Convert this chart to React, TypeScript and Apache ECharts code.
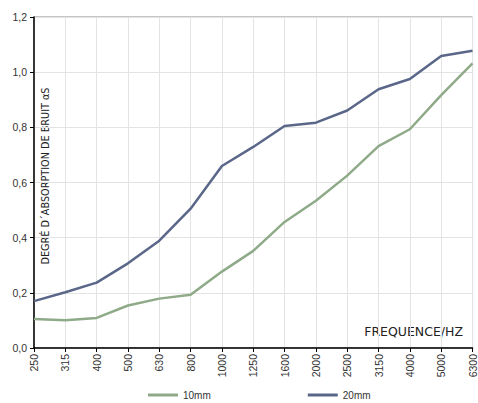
import React, { useEffect, useRef } from "react";
import * as echarts from "echarts";

const categories = ["250", "315", "400", "500", "630", "800", "1000", "1250", "1600", "2000", "2500", "3150", "4000", "5000", "6300"];
const series10mm = [0.105, 0.101, 0.109, 0.154, 0.179, 0.193, 0.277, 0.352, 0.457, 0.534, 0.625, 0.732, 0.793, 0.917, 1.032];
const series20mm = [0.170, 0.202, 0.237, 0.307, 0.389, 0.505, 0.660, 0.729, 0.805, 0.817, 0.861, 0.938, 0.975, 1.059, 1.078];
const yTicks = { min: 0, max: 1.2, interval: 0.2 };
const yAxisTitle = "DEGRÉ D´ABSORPTION DE BRUIT αS";
const xAxisTitle = "FREQUENCE/HZ";

export default function App() {
  const ref = useRef<HTMLDivElement>(null);
  useEffect(() => {
    document.body.style.margin = "0";
    if (!ref.current) return;
    const chart = echarts.init(ref.current, null, { renderer: "svg" });
    chart.setOption({
      animation: false,
      backgroundColor: "#ffffff",
      grid: {
        left: 34,
        right: 5,
        top: 17,
        bottom: 55,
        show: true,
        borderColor: "#8a8a8a",
        borderWidth: 1,
      },
      legend: {
        top: 385,
        left: 143,
        padding: 5,
        itemGap: 97,
        itemWidth: 30,
        itemHeight: 3,
        icon: "rect",
        textStyle: { fontFamily: "Liberation Sans", fontSize: 10, color: "#333" },
        data: ["10mm", "20mm"],
      },
      xAxis: {
        type: "category",
        data: categories,
        boundaryGap: false,
        axisLine: { lineStyle: { color: "#000", width: 1.5 } },
        axisTick: { show: true, length: 4, lineStyle: { color: "#000" } },
        axisLabel: {
          rotate: 90,
          interval: 0,
          fontFamily: "Liberation Sans",
          fontSize: 10.5,
          color: "#333",
          margin: 6,
        },
        splitLine: { show: true, lineStyle: { color: "#e3e3e3" } },
      },
      yAxis: {
        type: "value",
        min: yTicks.min,
        max: yTicks.max,
        interval: yTicks.interval,
        axisLine: { show: true, lineStyle: { color: "#000", width: 1.5 } },
        axisTick: { show: true, length: 4, lineStyle: { color: "#000" } },
        axisLabel: {
          fontFamily: "Liberation Sans",
          fontSize: 10.5,
          color: "#333",
          margin: 7,
          formatter: (v: number) => v.toFixed(1).replace(".", ","),
        },
        splitLine: { show: true, lineStyle: { color: "#e3e3e3" } },
      },
      graphic: [
        {
          type: "text",
          x: 45,
          y: 176,
          rotation: Math.PI / 2,
          style: {
            text: yAxisTitle,
            fontFamily: "DejaVu Sans",
            fontSize: 9.7,
            fill: "#222",
            align: "center",
            verticalAlign: "middle",
          },
        },
        {
          type: "text",
          x: 463,
          y: 331,
          style: {
            text: xAxisTitle,
            fontFamily: "DejaVu Sans",
            fontSize: 12.5,
            fill: "#222",
            align: "right",
            verticalAlign: "middle",
          },
        },
      ],
      series: [
        {
          name: "10mm",
          type: "line",
          data: series10mm,
          symbol: "none",
          lineStyle: { color: "#8faa88", width: 2.5 },
          itemStyle: { color: "#8faa88" },
        },
        {
          name: "20mm",
          type: "line",
          data: series20mm,
          symbol: "none",
          lineStyle: { color: "#5a6789", width: 2.5 },
          itemStyle: { color: "#5a6789" },
        },
      ],
    });
    return () => chart.dispose();
  }, []);
  return <div ref={ref} style={{ width: 478, height: 403 }} />;
}
